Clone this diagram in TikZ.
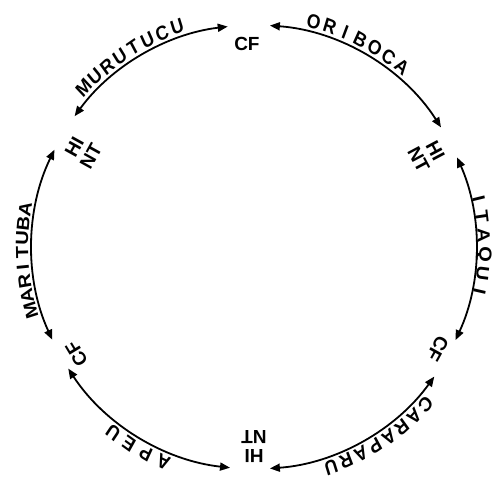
\documentclass[tikz,border=0pt]{standalone}
\usepackage{fontspec}
\setmainfont{Liberation Sans}
\usetikzlibrary{arrows.meta}

\tikzset{
  link/.style={line width=1.8pt,
    {Triangle[length=10pt,width=8pt]}-{Triangle[length=10pt,width=8pt]}},
  site/.style={inner sep=0pt, align=center,
    font=\fontsize{19}{19}\selectfont\bfseries},
  letter/.style={inner sep=0pt, xscale=0.88,
    font=\fontsize{20}{20}\selectfont\bfseries},
}

\begin{document}
\begin{tikzpicture}[x=1pt, y=1pt, line cap=round, line join=round]

  \path[use as bounding box] (-254,-240) rectangle (240,247);

  % ── sites round the ring (text top points outward) ──
  \node[site]             (cf1)   at (92:203)  {CF};
  \node[site, rotate=-62] (hint1) at (28:196)  {HI\\NT};
  \node[site, rotate=-119](cf2)   at (-29:210) {CF};
  \node[site, rotate=180] (hint2) at (-90:200) {HI\\NT};
  \node[site, rotate=121] (cf3)   at (211:207) {CF};
  \node[site, rotate=61]  (hint3) at (151:196) {HI\\NT};

  % ── arrow ends on the outer ring ──
  \coordinate (mu-s) at (143.9:222);
  \coordinate (or-s) at (85.9:222);
  \coordinate (it-s) at (23.8:222);
  \coordinate (ca-s) at (-35.7:222);
  \coordinate (ap-s) at (-96.2:222);
  \coordinate (ma-s) at (204.7:222);

  \draw[link] (mu-s) arc[start angle=143.9, end angle=96.8,  radius=222];
  \draw[link] (or-s) arc[start angle=85.9,  end angle=32.6,  radius=222];
  \draw[link] (it-s) arc[start angle=23.8,  end angle=-24.8, radius=222];
  \draw[link] (ca-s) arc[start angle=-35.7, end angle=-85.9, radius=222];
  \draw[link] (ap-s) arc[start angle=-96.2, end angle=-146.8,radius=222];
  \draw[link] (ma-s) arc[start angle=204.7, end angle=154,   radius=222];

  % ── names, letter by letter, clockwise ──
  \foreach \ch [count=\i] in {M,U,R,U,T,U,C,U}{
    \pgfmathsetmacro\a{137-(\i-1)*3.96}
    \node[letter, rotate=\a-90] (murutucu-\i) at (\a:233) {\ch};
  }
  \foreach \ch [count=\i] in {O,R,I,B,O,C,A}{
    \pgfmathsetmacro\a{75.1-(\i-1)*4.08}
    \node[letter, rotate=\a-90] (oriboca-\i) at (\a:233) {\ch};
  }
  \foreach \ch [count=\i] in {I,T,A,Q,U,I}{
    \pgfmathsetmacro\a{12.2-(\i-1)*4.7}
    \node[letter, rotate=\a-90] (itaqui-\i) at (\a:230) {\ch};
  }
  \foreach \ch [count=\i] in {C,A,R,A,P,A,R,U}{
    \pgfmathsetmacro\a{-42.6-(\i-1)*4.01}
    \node[letter, rotate=\a-90] (caraparu-\i) at (\a:233) {\ch};
  }
  \foreach \ch [count=\i] in {A,P,E,U}{
    \pgfmathsetmacro\a{-112.9-(\i-1)*4.77}
    \node[letter, rotate=\a-90] (apeu-\i) at (\a:233) {\ch};
  }
  \foreach \ch [count=\i] in {M,A,R,I,T,U,B,A}{
    \pgfmathsetmacro\a{195.8-(\i-1)*3.61}
    \node[letter, rotate=\a-90] (marituba-\i) at (\a:232) {\ch};
  }

\end{tikzpicture}
\end{document}
